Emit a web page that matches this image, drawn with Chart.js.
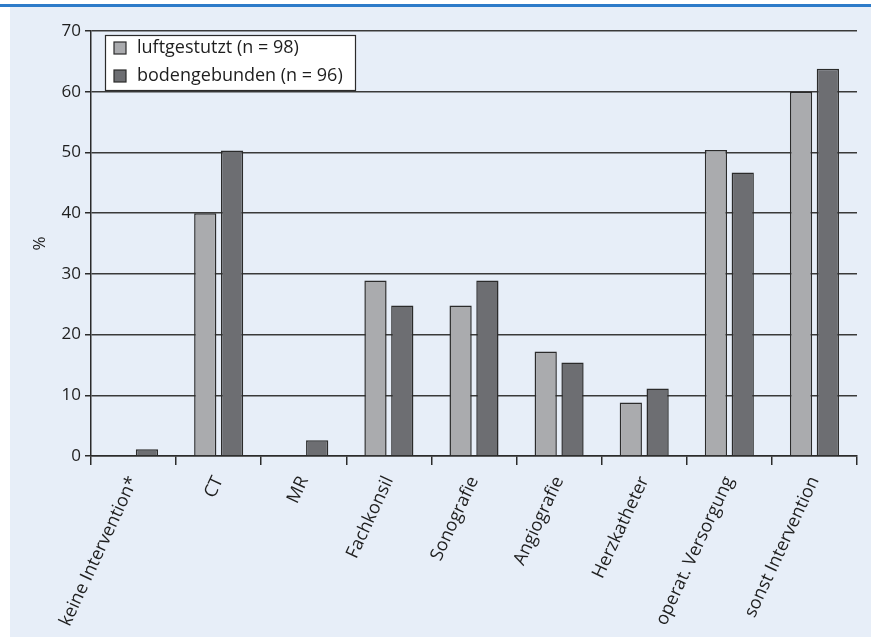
<!DOCTYPE html>
<html>
<head>
<meta charset="utf-8">
<script src="https://cdn.jsdelivr.net/npm/chart.js@4/dist/chart.umd.min.js"></script>
<style>
  html, body { margin: 0; padding: 0; background: #fff; }
  #wrap { width: 871px; height: 637px; }
</style>
</head>
<body>
<div id="wrap"><canvas id="myChart" width="871" height="637"></canvas></div>
<script>
// kategorien + werte (in %)
const categories = ['keine Intervention*', 'CT', 'MR', 'Fachkonsil', 'Sonografie', 'Angiografie', 'Herzkatheter', 'operat. Versorgung', 'sonst Intervention'];
const luftgestutzt = [0, 40.0, 0, 28.9, 24.8, 17.2, 8.8, 50.4, 60.0];
const bodengebunden = [1.1, 50.3, 2.6, 24.8, 28.9, 15.4, 11.1, 46.7, 63.8];
const seriesNames = ['luftgestutzt (n = 98)', 'bodengebunden (n = 96)'];
const yTicks = [0, 10, 20, 30, 40, 50, 60, 70];

const FONT = '"Open Sans", "Liberation Sans", sans-serif';
const INK = '#2b2b2b';

// hellblauer hintergrund + blaue linie oben
const panelPlugin = {
  id: 'panel',
  beforeDraw(chart) {
    const ctx = chart.ctx;
    ctx.save();
    ctx.fillStyle = '#ffffff';
    ctx.fillRect(0, 0, chart.width, chart.height);
    ctx.fillStyle = '#e7eef8';
    ctx.fillRect(10, 7, chart.width - 10, chart.height - 7);
    ctx.fillStyle = '#2d7bc9';
    ctx.fillRect(0, 4, chart.width, 3);
    ctx.restore();
  }
};

// legende als kasten im diagramm
const boxLegend = {
  id: 'boxLegend',
  afterDraw(chart) {
    const ctx = chart.ctx;
    const x = 105, y = 35, w = 250, h = 55;
    ctx.save();
    ctx.fillStyle = '#ffffff';
    ctx.fillRect(x, y, w, h);
    ctx.strokeStyle = INK;
    ctx.lineWidth = 1.2;
    ctx.strokeRect(x + 0.5, y + 0.5, w, h);
    ctx.font = '18px ' + FONT;
    ctx.textBaseline = 'middle';
    chart.data.datasets.forEach((ds, i) => {
      const cy = y + 13 + i * 28;
      ctx.fillStyle = ds.backgroundColor;
      ctx.fillRect(x + 9, cy - 6, 12, 12);
      ctx.strokeStyle = INK;
      ctx.lineWidth = 1.2;
      ctx.strokeRect(x + 9, cy - 6, 12, 12);
      ctx.fillStyle = '#1e1e1e';
      ctx.fillText(ds.label, x + 32, cy);
    });
    ctx.restore();
  }
};

const ctx = document.getElementById('myChart');
new Chart(ctx, {
  type: 'bar',
  data: {
    labels: categories,
    datasets: [
      {
        label: seriesNames[0],
        data: luftgestutzt,
        backgroundColor: '#aaabae',
        borderColor: INK,
        borderWidth: 1.5,
        categoryPercentage: 0.63,
        barPercentage: 0.83
      },
      {
        label: seriesNames[1],
        data: bodengebunden,
        backgroundColor: '#6d6e72',
        borderColor: INK,
        borderWidth: 1.5,
        categoryPercentage: 0.63,
        barPercentage: 0.83
      }
    ]
  },
  options: {
    responsive: false,
    animation: false,
    layout: { padding: { left: 30, right: 14, top: 31, bottom: 0 } },
    plugins: {
      legend: { display: false },
      tooltip: { enabled: false }
    },
    scales: {
      x: {
        offset: true,
        grid: {
          offset: true,
          drawOnChartArea: false,
          drawTicks: true,
          tickLength: 9,
          color: INK,
          lineWidth: 1.5
        },
        border: { color: INK, width: 1.5 },
        ticks: {
          color: '#1e1e1e',
          font: { family: FONT, size: 18 },
          minRotation: 65,
          maxRotation: 65,
          padding: 8,
          autoSkip: false
        },
        afterFit(scale) { scale.height = 637 - 456; }
      },
      y: {
        min: 0,
        max: 70,
        afterBuildTicks(scale) { scale.ticks = yTicks.map(v => ({ value: v })); },
        grid: {
          color: '#3a3a3a',
          lineWidth: 1.5,
          tickLength: 6,
          tickColor: INK
        },
        border: { color: INK, width: 1.5 },
        ticks: {
          color: '#1e1e1e',
          font: { family: FONT, size: 17 },
          padding: 4
        },
        title: {
          display: true,
          text: '%',
          color: '#1e1e1e',
          font: { family: FONT, size: 17 },
          padding: 0
        },
        afterFit(scale) { scale.width = 91 - 30; }
      }
    }
  },
  plugins: [panelPlugin, boxLegend]
});
</script>
</body>
</html>
